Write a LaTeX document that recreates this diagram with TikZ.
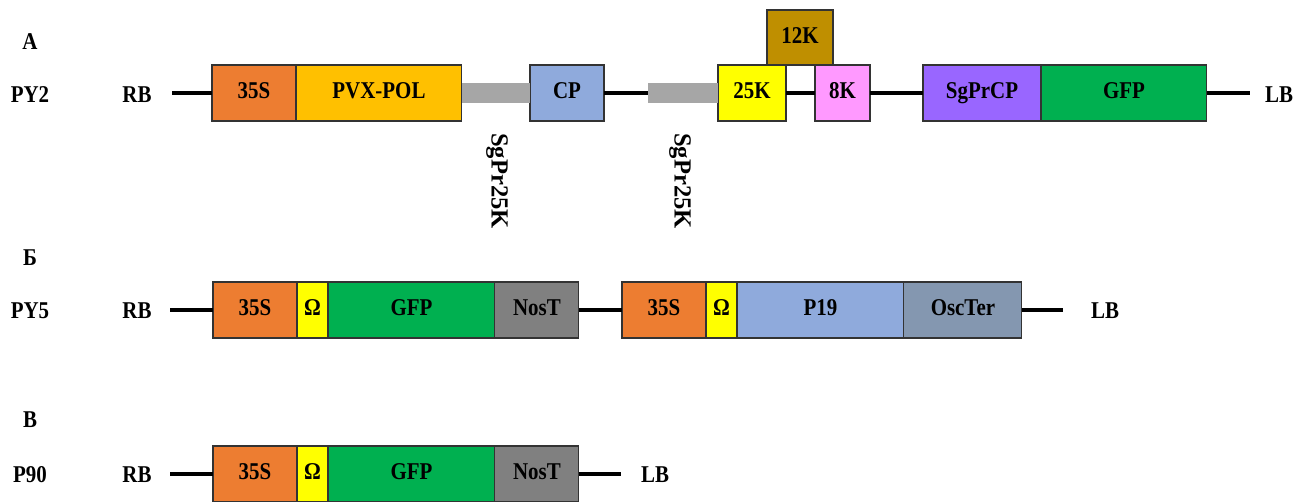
\documentclass[tikz,border=0pt]{standalone}
\usepackage{fontspec}
\setmainfont{Liberation Serif}[FakeStretch=0.87]
\newfontfamily\uprightserif{Liberation Serif}
\usetikzlibrary{positioning}

\definecolor{promoter}{HTML}{ED7D31}
\definecolor{pol}{HTML}{FFC000}
\definecolor{coat}{HTML}{8FAADC}
\definecolor{spacer}{HTML}{A6A6A6}
\definecolor{k25}{HTML}{FFFF00}
\definecolor{k12}{HTML}{BF8F00}
\definecolor{k8}{HTML}{FF99FF}
\definecolor{sgcp}{HTML}{9966FF}
\definecolor{gfp}{HTML}{00B050}
\definecolor{nos}{HTML}{808080}
\definecolor{oscter}{HTML}{8497B0}

\tikzset{
  gene/.style={draw=black!80, line width=0.6pt, minimum height=1.12cm, inner sep=0pt, outer sep=0pt,
    text height=1.44ex, text depth=0pt, anchor=west},
  dna/.style={line width=2.2pt},
  sgpr/.style={draw=spacer, line width=11pt},
  vlabel/.style={rotate=-90, font=\uprightserif\fontsize{14}{16}\selectfont\bfseries}
}

\begin{document}
\begin{tikzpicture}[x=0.02cm, y=-0.02cm, font=\fontsize{13.7}{16}\selectfont\bfseries]
  \useasboundingbox (0,0) rectangle (1309,502);

  \node (lblA) at (30,42) {А};
  \node (py2) at (30,95) {PY2};
  \node (rbA) at (137,95) {RB};
  \coordinate (a0) at (172,93);
  \node[gene, fill=promoter, minimum width=1.68cm] (s35A) at (212,93) {35S};
  \node[gene, fill=pol, minimum width=3.32cm, right=0pt of s35A] (pvx) {PVX-POL};
  \node[gene, fill=coat, minimum width=1.48cm] (cp) at (530,93) {CP};
  \coordinate (g2) at (648,93);
  \node[gene, fill=k25, minimum width=1.36cm] (p25) at (718,93) {25K};
  \node[gene, fill=k12, minimum width=1.32cm, minimum height=1.10cm, anchor=south west] (p12) at (767,65) {12K};
  \node[gene, fill=k8, minimum width=1.10cm] (p8) at (815,93) {8K};
  \node[gene, fill=sgcp, minimum width=2.36cm] (sgprcp) at (923,93) {SgPrCP};
  \node[gene, fill=gfp, minimum width=3.32cm, right=0pt of sgprcp] (gfpA) {GFP};
  \coordinate (a1) at (1250,93);
  \node (lbA) at (1279,95) {LB};
  \draw[dna] (a0) -- (s35A.west);
  \draw[sgpr] (pvx.east) -- (cp.west);
  \draw[dna] (cp.east) -- (g2);
  \draw[sgpr] (g2) -- (p25.west);
  \draw[dna] (p25.east) -- (p8.west);
  \draw[dna] (p8.east) -- (sgprcp.west);
  \draw[dna] (gfpA.east) -- (a1);
  \node[vlabel] (sg1) at (497,181) {SgPr25K};
  \node[vlabel] (sg2) at (680,181) {SgPr25K};

  \node (lblB) at (30,258) {Б};
  \node (py5) at (30,311) {PY5};
  \node (rbB) at (137,311) {RB};
  \coordinate (b0) at (170,310);
  \node[gene, fill=promoter, minimum width=1.68cm] (s35B) at (213,310) {35S};
  \node[gene, fill=k25, minimum width=0.62cm, right=0pt of s35B] (omB) {Ω};
  \node[gene, fill=gfp, minimum width=3.34cm, right=0pt of omB] (gfpB) {GFP};
  \node[gene, fill=nos, minimum width=1.68cm, right=0pt of gfpB] (nosB) {NosT};
  \node[gene, fill=promoter, minimum width=1.68cm] (s35C) at (622,310) {35S};
  \node[gene, fill=k25, minimum width=0.62cm, right=0pt of s35C] (omC) {Ω};
  \node[gene, fill=coat, minimum width=3.34cm, right=0pt of omC] (p19) {P19};
  \node[gene, fill=oscter, minimum width=2.36cm, right=0pt of p19] (osc) {OscTer};
  \coordinate (b1) at (1063,310);
  \node (lbB) at (1105,311) {LB};
  \draw[dna] (b0) -- (s35B.west);
  \draw[dna] (nosB.east) -- (s35C.west);
  \draw[dna] (osc.east) -- (b1);

  \node (lblV) at (30,420) {В};
  \node (p90) at (30,475) {P90};
  \node (rbV) at (137,475) {RB};
  \coordinate (v0) at (170,474);
  \node[gene, fill=promoter, minimum width=1.68cm] (s35V) at (213,474) {35S};
  \node[gene, fill=k25, minimum width=0.62cm, right=0pt of s35V] (omV) {Ω};
  \node[gene, fill=gfp, minimum width=3.34cm, right=0pt of omV] (gfpV) {GFP};
  \node[gene, fill=nos, minimum width=1.68cm, right=0pt of gfpV] (nosV) {NosT};
  \coordinate (v1) at (621,474);
  \node (lbV) at (655,475) {LB};
  \draw[dna] (v0) -- (s35V.west);
  \draw[dna] (nosV.east) -- (v1);
\end{tikzpicture}
\end{document}
